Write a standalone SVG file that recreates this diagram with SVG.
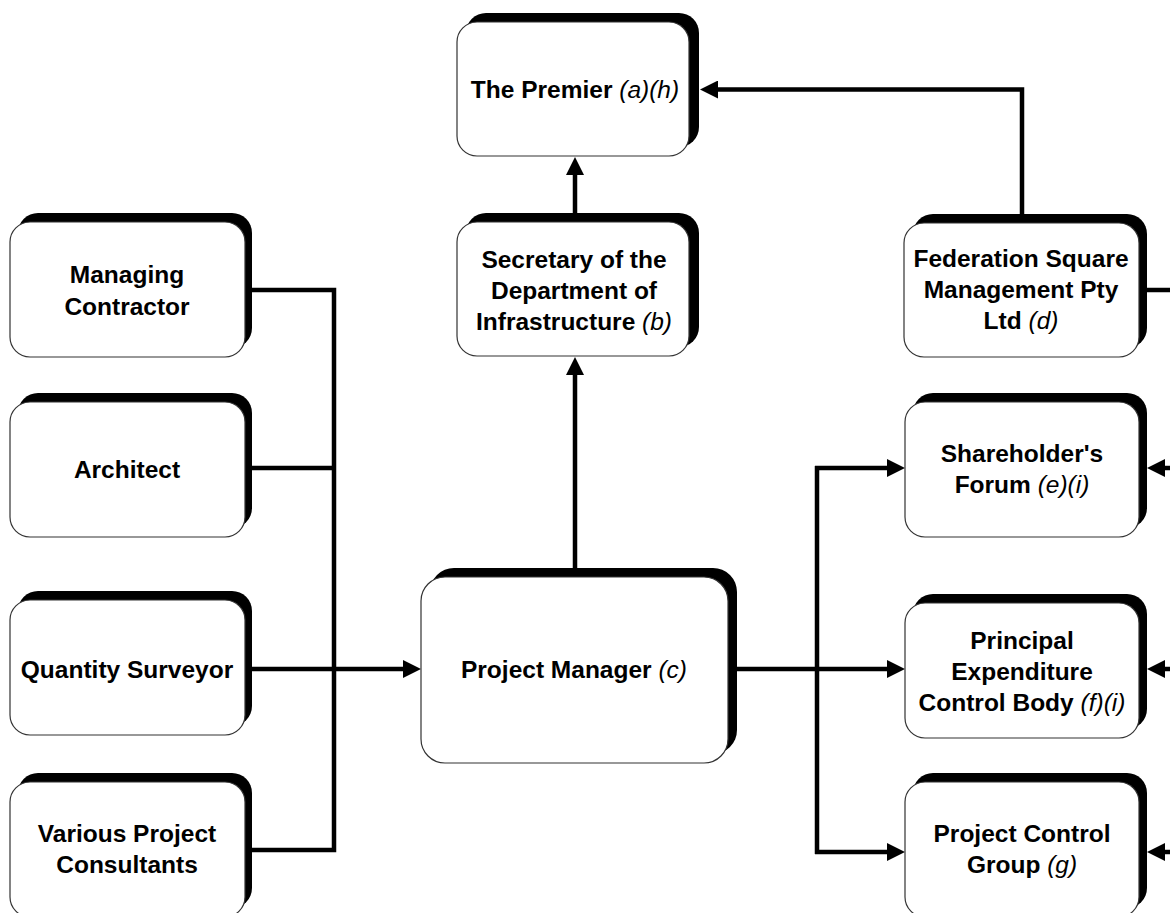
<svg xmlns="http://www.w3.org/2000/svg" width="1170" height="913" viewBox="0 0 1170 913">
<style>
.sh{fill:#000}
.bx{fill:#fff;stroke:#333;stroke-width:1.2}
.t{font-family:"Liberation Sans",Arial,sans-serif;font-size:24.5px;font-weight:bold;fill:#000;text-anchor:middle}
.i{font-weight:normal;font-style:italic}
.c{fill:none;stroke:#000;stroke-width:4.5}
</style>
<defs>
<marker id="ah" markerUnits="userSpaceOnUse" markerWidth="18" markerHeight="18" viewBox="0 0 18 18" refX="1" refY="9" orient="auto">
<path d="M0,0 L18,9 L0,18 Z" fill="#000"/>
</marker>
</defs>
<rect width="1170" height="913" fill="#fff"/>
<g id="connectors">
<path class="c" d="M575,214 V174" marker-end="url(#ah)"/>
<path class="c" d="M575,568 V374" marker-end="url(#ah)"/>
<path class="c" d="M1022,214 V89.5 H717" marker-end="url(#ah)"/>
<path class="c" d="M1147,290 H1170"/>
<path class="c" d="M1172,468 H1164" marker-end="url(#ah)"/>
<path class="c" d="M1172,669 H1164" marker-end="url(#ah)"/>
<path class="c" d="M1172,852 H1164" marker-end="url(#ah)"/>
<path class="c" d="M252,290 H334 V850 H252"/>
<path class="c" d="M252,468 H334"/>
<path class="c" d="M252,669 H404" marker-end="url(#ah)"/>
<path class="c" d="M735,669 H888" marker-end="url(#ah)"/>
<path class="c" d="M817,466 V854"/>
<path class="c" d="M815,468 H888" marker-end="url(#ah)"/>
<path class="c" d="M815,852 H888" marker-end="url(#ah)"/>
</g>
<g id="premier">
<rect class="sh" x="466" y="13" width="233" height="134" rx="20"/>
<rect class="bx" x="457" y="22" width="232" height="134" rx="20"/>
<text class="t" x="575" y="97.5">The Premier <tspan class="i">(a)(h)</tspan></text>
</g>
<g id="secretary">
<rect class="sh" x="466" y="213" width="233" height="134" rx="20"/>
<rect class="bx" x="457" y="222" width="232" height="134" rx="20"/>
<text class="t" x="574" y="267.5">Secretary of the</text>
<text class="t" x="574" y="298.5">Department of</text>
<text class="t" x="574" y="329.5">Infrastructure <tspan class="i">(b)</tspan></text>
</g>
<g id="managing">
<rect class="sh" x="18" y="213" width="234" height="135" rx="20"/>
<rect class="bx" x="10" y="222" width="235" height="135" rx="20"/>
<text class="t" x="127" y="282.5">Managing</text>
<text class="t" x="127" y="314.5">Contractor</text>
</g>
<g id="architect">
<rect class="sh" x="18" y="393" width="234" height="135" rx="20"/>
<rect class="bx" x="10" y="402" width="235" height="135" rx="20"/>
<text class="t" x="127" y="477.5">Architect</text>
</g>
<g id="qs">
<rect class="sh" x="18" y="591" width="234" height="135" rx="20"/>
<rect class="bx" x="10" y="600" width="235" height="135" rx="20"/>
<text class="t" x="127" y="677.5">Quantity Surveyor</text>
</g>
<g id="various">
<rect class="sh" x="18" y="773" width="234" height="135" rx="20"/>
<rect class="bx" x="10" y="782" width="235" height="135" rx="20"/>
<text class="t" x="127" y="841.5">Various Project</text>
<text class="t" x="127" y="872.5">Consultants</text>
</g>
<g id="federation">
<rect class="sh" x="913" y="214" width="234" height="134" rx="20"/>
<rect class="bx" x="904" y="223" width="235" height="134" rx="20"/>
<text class="t" x="1021" y="266.5">Federation Square</text>
<text class="t" x="1021" y="297.5">Management Pty</text>
<text class="t" x="1021" y="328.5">Ltd <tspan class="i">(d)</tspan></text>
</g>
<g id="shareholder">
<rect class="sh" x="913" y="393" width="234" height="135" rx="20"/>
<rect class="bx" x="905" y="402" width="234" height="135" rx="20"/>
<text class="t" x="1022" y="461.5">Shareholder's</text>
<text class="t" x="1022" y="492.5">Forum <tspan class="i">(e)(i)</tspan></text>
</g>
<g id="principal">
<rect class="sh" x="913" y="594" width="234" height="135" rx="20"/>
<rect class="bx" x="905" y="603" width="234" height="135" rx="20"/>
<text class="t" x="1022" y="648.5">Principal</text>
<text class="t" x="1022" y="679.5">Expenditure</text>
<text class="t" x="1022" y="710.5">Control Body <tspan class="i">(f)(i)</tspan></text>
</g>
<g id="pcg">
<rect class="sh" x="913" y="773" width="234" height="135" rx="20"/>
<rect class="bx" x="905" y="782" width="234" height="135" rx="20"/>
<text class="t" x="1022" y="841.5">Project Control</text>
<text class="t" x="1022" y="872.5">Group <tspan class="i">(g)</tspan></text>
</g>
<g id="pm">
<rect class="sh" x="430" y="568" width="307" height="186" rx="24"/>
<rect class="bx" x="421" y="577" width="307" height="186" rx="24"/>
<text class="t" x="574" y="677.5">Project Manager <tspan class="i">(c)</tspan></text>
</g>
</svg>
